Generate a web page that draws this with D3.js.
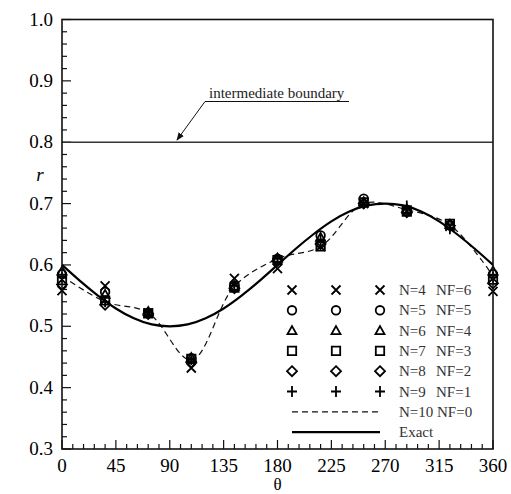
<!DOCTYPE html>
<html>
<head>
<meta charset="utf-8">
<script src="https://cdn.jsdelivr.net/npm/d3@7"></script>
<style>
  body { margin: 0; background: #fff; }
</style>
</head>
<body>
<svg id="chart" width="511" height="494"></svg>
<script>
// angles of the sample points (degrees)
var theta = [0, 36, 72, 108, 144, 180, 216, 252, 288, 324, 360];

// r values, one array per case
var rN4 = [0.558, 0.566, 0.522, 0.432, 0.578, 0.594, 0.630, 0.700, 0.688, 0.663, 0.557];
var rN5 = [0.585, 0.556, 0.522, 0.448, 0.566, 0.610, 0.648, 0.708, 0.690, 0.665, 0.585];
var rN6 = [0.590, 0.552, 0.524, 0.449, 0.565, 0.611, 0.645, 0.703, 0.691, 0.666, 0.590];
var rN7 = [0.575, 0.542, 0.521, 0.447, 0.563, 0.608, 0.630, 0.702, 0.687, 0.667, 0.576];
var rN8 = [0.568, 0.535, 0.520, 0.441, 0.562, 0.607, 0.634, 0.700, 0.686, 0.664, 0.570];
var rN9 = [0.580, 0.540, 0.522, 0.446, 0.566, 0.610, 0.640, 0.701, 0.696, 0.659, 0.580];
var rN10 = [0.582, 0.540, 0.522, 0.445, 0.565, 0.610, 0.630, 0.700, 0.690, 0.665, 0.582];

// exact solution, every 15 degrees
var thetaExact = [0, 15, 30, 45, 60, 75, 90, 105, 120, 135, 150, 165, 180,
                  195, 210, 225, 240, 255, 270, 285, 300, 315, 330, 345, 360];
var rExact = [0.600, 0.574, 0.550, 0.529, 0.513, 0.503, 0.500, 0.503, 0.513, 0.529, 0.550, 0.574, 0.600,
              0.626, 0.650, 0.671, 0.687, 0.697, 0.700, 0.697, 0.687, 0.671, 0.650, 0.626, 0.600];

var boundary = 0.8;
var xTicks = [0, 45, 90, 135, 180, 225, 270, 315, 360];
var yTicks = [0.3, 0.4, 0.5, 0.6, 0.7, 0.8, 0.9, 1.0];

var cases = [
  {label: "N=4", nf: "NF=6", values: rN4, shape: "x"},
  {label: "N=5", nf: "NF=5", values: rN5, shape: "circle"},
  {label: "N=6", nf: "NF=4", values: rN6, shape: "triangle"},
  {label: "N=7", nf: "NF=3", values: rN7, shape: "square"},
  {label: "N=8", nf: "NF=2", values: rN8, shape: "diamond"},
  {label: "N=9", nf: "NF=1", values: rN9, shape: "plus"}
];

var serif = "'Liberation Serif', 'Times New Roman', serif";
var svg = d3.select("#chart");
var margin = {top: 19.5, right: 18, bottom: 45, left: 62},
    width = 511 - margin.left - margin.right,
    height = 494 - margin.top - margin.bottom;

var g = svg.append("g")
  .attr("transform", "translate(" + margin.left + "," + margin.top + ")");

var x = d3.scaleLinear().domain([0, 360]).range([0, width]);
var y = d3.scaleLinear().domain([0.3, 1.0]).range([height, 0]);

// minor ticks (inward)
var xMinor = d3.range(0, 361, 9);
var yMinor = d3.range(0, 36).map(function(i){ return 0.3 + i * 0.02; });

g.selectAll(".xminor").data(xMinor).enter().append("line")
  .attr("x1", function(d){ return x(d); }).attr("x2", function(d){ return x(d); })
  .attr("y1", height).attr("y2", function(d){ return d % 45 === 0 ? height - 9 : height - 5; })
  .attr("stroke", "#111").attr("stroke-width", 1.2);

g.selectAll(".yminor").data(yMinor).enter().append("line")
  .attr("y1", function(d){ return y(d); }).attr("y2", function(d){ return y(d); })
  .attr("x1", 0).attr("x2", function(d, i){ return i % 5 === 0 ? 9 : 5; })
  .attr("stroke", "#111").attr("stroke-width", 1.2);

// tick labels
g.selectAll(".xlab").data(xTicks).enter().append("text")
  .attr("x", function(d){ return x(d); })
  .attr("y", height + 23)
  .attr("text-anchor", "middle")
  .style("font-family", serif)
  .attr("font-size", 19)
  .text(function(d){ return d; });

g.selectAll(".ylab").data(yTicks).enter().append("text")
  .attr("x", -9)
  .attr("y", function(d){ return y(d) + 6; })
  .attr("text-anchor", "end")
  .style("font-family", serif)
  .attr("font-size", 19)
  .text(function(d){ return d3.format(".1f")(d); });

// axis titles
svg.append("text").attr("x", 40).attr("y", 181)
  .style("font-family", serif)
  .attr("font-size", 19).attr("font-style", "italic").attr("text-anchor", "middle").text("r");
svg.append("text").attr("x", margin.left + x(180)).attr("y", 490)
  .style("font-family", serif)
  .attr("font-size", 17).attr("text-anchor", "middle").text("θ");

// intermediate boundary line and annotation
g.append("line")
  .attr("x1", 0).attr("x2", width)
  .attr("y1", y(boundary)).attr("y2", y(boundary))
  .attr("stroke", "#333").attr("stroke-width", 1.5);

svg.append("defs").append("marker")
  .attr("id", "arrow").attr("viewBox", "0 0 10 10")
  .attr("refX", 9).attr("refY", 5)
  .attr("markerWidth", 8).attr("markerHeight", 8)
  .attr("orient", "auto-start-reverse")
  .append("path").attr("d", "M0,1 L10,5 L0,9 z").attr("fill", "#111");

svg.append("polyline")
  .attr("points", "349,101.5 205,101.5 177,140")
  .attr("fill", "none").attr("stroke", "#111").attr("stroke-width", 1)
  .attr("marker-end", "url(#arrow)");
svg.append("text").attr("x", 209).attr("y", 98)
  .style("font-family", serif)
  .attr("font-size", 15).attr("fill", "#222").text("intermediate boundary");

// curves
var lineExact = d3.line()
  .x(function(d, i){ return x(thetaExact[i]); })
  .y(function(d){ return y(d); })
  .curve(d3.curveNatural);
var lineN10 = d3.line()
  .x(function(d, i){ return x(theta[i]); })
  .y(function(d){ return y(d); })
  .curve(d3.curveCatmullRom.alpha(0.5));

g.append("path").attr("d", lineN10(rN10))
  .attr("fill", "none").attr("stroke", "#111").attr("stroke-width", 1.2)
  .attr("stroke-dasharray", "6,4");
g.append("path").attr("d", lineExact(rExact))
  .attr("fill", "none").attr("stroke", "#000").attr("stroke-width", 2.2);

// marker drawing
function drawMarker(sel, shape, cx, cy) {
  var s = 4.5;
  var p;
  if (shape === "circle") {
    sel.append("circle").attr("cx", cx).attr("cy", cy).attr("r", 4.3)
      .attr("fill", "none").attr("stroke", "#000").attr("stroke-width", 1.8);
    return;
  }
  if (shape === "x") p = "M" + (cx - s) + "," + (cy - s) + "L" + (cx + s) + "," + (cy + s) +
                         "M" + (cx - s) + "," + (cy + s) + "L" + (cx + s) + "," + (cy - s);
  if (shape === "plus") p = "M" + (cx - 5) + "," + cy + "L" + (cx + 5) + "," + cy +
                            "M" + cx + "," + (cy - 5.5) + "L" + cx + "," + (cy + 5.5);
  if (shape === "triangle") p = "M" + cx + "," + (cy - 4.5) + "L" + (cx + 4.5) + "," + (cy + 3.5) +
                                "L" + (cx - 4.5) + "," + (cy + 3.5) + "Z";
  if (shape === "square") p = "M" + (cx - 4.2) + "," + (cy - 4.2) + "h8.4v8.4h-8.4Z";
  if (shape === "diamond") p = "M" + cx + "," + (cy - 5) + "L" + (cx + 5) + "," + cy +
                               "L" + cx + "," + (cy + 5) + "L" + (cx - 5) + "," + cy + "Z";
  sel.append("path").attr("d", p).attr("fill", "none")
    .attr("stroke", "#000").attr("stroke-width", 1.8);
}

var pts = g.append("g");
cases.forEach(function(c){
  c.values.forEach(function(v, i){
    drawMarker(pts, c.shape, x(theta[i]), y(v));
  });
});

// frame
g.append("rect").attr("x", 0).attr("y", 0).attr("width", width).attr("height", height)
  .attr("fill", "none").attr("stroke", "#111").attr("stroke-width", 1.6);

// legend
var legX = [292, 336, 380];
var legY0 = 290, legDy = 20.3;
var leg = svg.append("g");
function legText(tx, ty, s) {
  leg.append("text").attr("x", tx).attr("y", ty).style("font-family", serif)
    .attr("font-size", 15).attr("fill", "#333").text(s);
}
cases.forEach(function(c, k){
  var yy = legY0 + k * legDy;
  legX.forEach(function(lx){ drawMarker(leg, c.shape, lx, yy); });
  legText(399, yy + 5, c.label);
  legText(436, yy + 5, c.nf);
});
var yDash = legY0 + 6 * legDy, yExact = legY0 + 7 * legDy;
leg.append("line").attr("x1", 292).attr("x2", 380).attr("y1", yDash).attr("y2", yDash)
  .attr("stroke", "#111").attr("stroke-width", 1.2).attr("stroke-dasharray", "6,4");
legText(399, yDash + 5, "N=10 NF=0");
leg.append("line").attr("x1", 292).attr("x2", 380).attr("y1", yExact).attr("y2", yExact)
  .attr("stroke", "#000").attr("stroke-width", 2.2);
legText(399, yExact + 5, "Exact");
</script>
</body>
</html>
